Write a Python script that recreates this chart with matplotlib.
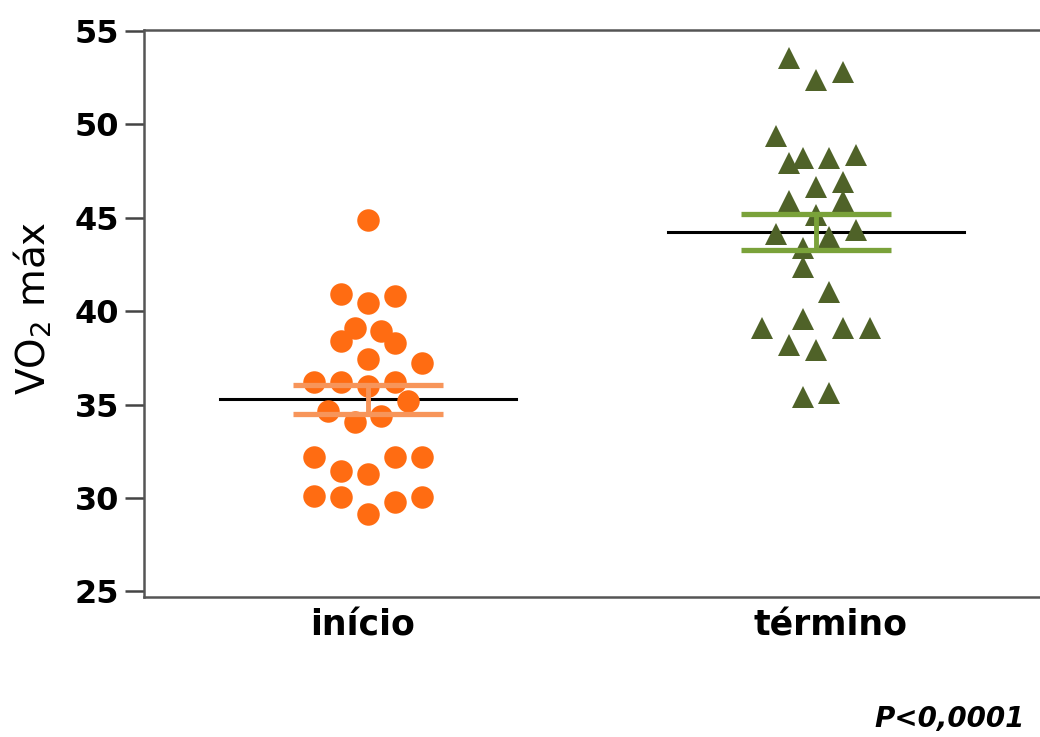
import numpy as np
import matplotlib
matplotlib.use("Agg")
import matplotlib.pyplot as plt
from matplotlib.transforms import ScaledTranslation

plt.rcParams['font.family'] = ['DejaVu Sans']
plt.rcParams['mathtext.default'] = 'regular'

groups = ["início", "término"]

# VO2 max per subject, start and end of the programme
inicio = [44.9, 40.9, 40.45, 40.8, 39.1, 38.4, 38.95, 38.3, 37.45, 37.2,
          36.2, 36.2, 36.0, 36.2, 35.2, 34.65, 34.05, 34.4,
          32.2, 31.45, 31.3, 32.2, 32.2, 30.1, 30.05, 29.15, 29.8, 30.05]
termino = [53.55, 52.35, 52.8, 49.35, 47.95, 48.2, 48.2, 48.35, 46.65, 46.9,
           45.9, 45.9, 45.15, 44.15, 43.95, 44.35, 43.4, 42.35, 41.0,
           39.1, 39.6, 39.1, 39.1, 38.2, 37.9, 35.4, 35.6]

# column slot of each point in the dot plot (scatter so markers don't overlap)
inicio_slot = [0, -2, 0, 2, -1, -2, 1, 2, 0, 4, -4, -2, 0, 2, 3, -3, -1, 1,
               -4, -2, 0, 2, 4, -4, -2, 0, 2, 4]
termino_slot = [-2, 0, 2, -3, -2, -1, 1, 3, 0, 2, -2, 2, 0, -3, 1, 3, -1, -1, 1,
                -4, -1, 2, 4, -2, 0, -1, 1]

slot_w = 0.03
pos = [0, 1]

fig = plt.figure(figsize=(10.4, 7.37), dpi=100)
ax = fig.add_axes([0.1385, 0.19, 0.8615, 0.7693])

series = [
    (inicio, inicio_slot, 'o', 16.2, '#FF6C12', '#F7955A'),
    (termino, termino_slot, '^', 16.5, '#4F6228', '#7AA23A'),
]

for p, (vals, slots, mk, ms, col, barcol) in zip(pos, series):
    vals = np.array(vals)
    xs = p + np.array(slots) * slot_w
    mean = vals.mean()
    sem = vals.std(ddof=1) / np.sqrt(len(vals))

    # mean line
    ax.plot([p - 0.33, p + 0.33], [mean, mean], color='black', lw=2.2, zorder=2)
    ax.plot(xs, vals, linestyle='none', marker=mk, ms=ms, color=col,
            markeredgewidth=0, zorder=3)
    # mean +- SEM bars
    ax.plot([p - 0.167, p + 0.167], [mean + sem] * 2, color=barcol, lw=3.8,
            solid_capstyle='butt', zorder=4)
    ax.plot([p - 0.167, p + 0.167], [mean - sem] * 2, color=barcol, lw=3.8,
            solid_capstyle='butt', zorder=4)
    ax.plot([p, p], [mean - sem, mean + sem], color=barcol, lw=3.5, zorder=4)

ax.set_xlim(-0.5, 1.5)
ax.set_ylim(24.7, 55.05)
ax.set_yticks(np.arange(25, 56, 5))
ax.set_xticks(pos)
ax.set_xticklabels(groups, fontsize=25, fontweight='bold')
ax.tick_params(axis='x', length=0, pad=8)
ax.tick_params(axis='y', length=13.7, width=1.8, color='#444444', pad=4)
for lbl in ax.get_yticklabels():
    lbl.set_fontsize(23)
    lbl.set_fontweight('bold')

# nudge the category names a little
for lbl, dx in zip(ax.get_xticklabels(), [-0.05, 0.14]):
    lbl.set_transform(lbl.get_transform() + ScaledTranslation(dx, 0, fig.dpi_scale_trans))

for side in ['left', 'bottom', 'top']:
    ax.spines[side].set_color('#555555')
    ax.spines[side].set_linewidth(1.8)
ax.spines['right'].set_visible(False)

ax.set_ylabel('VO$_2$ máx', fontsize=28)
ax.yaxis.set_label_coords(-0.101, 0.51)

fig.text(0.9856, 0.0136, 'P<0,0001', ha='right', va='baseline',
         fontsize=20, fontweight='bold', fontstyle='italic')

fig.savefig('out.png', dpi=100)
